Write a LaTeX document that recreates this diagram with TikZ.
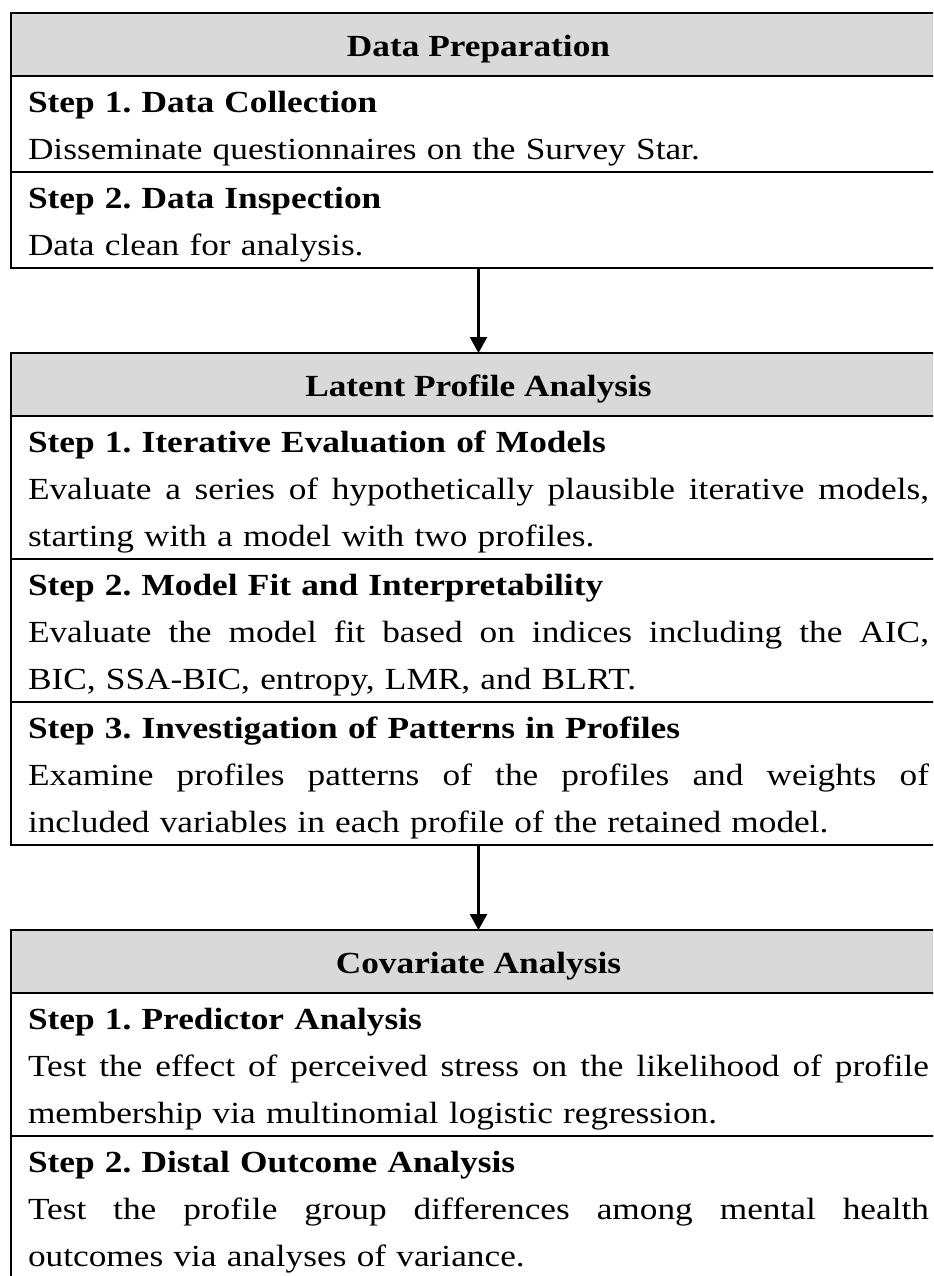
\documentclass[tikz,border=0pt]{standalone}
\usepackage{fontspec}
\setmainfont{Liberation Serif}[FakeStretch=1.15]
\usetikzlibrary{positioning,arrows.meta}

\definecolor{headgray}{RGB}{217,217,217}
% one text line: strut for the line height, justified line
\newcommand{\ls}{\rule[-5.75pt]{0pt}{23.5pt}}
\newcommand{\jline}[1]{{\spaceskip=0pt\xspaceskip=0pt\makebox[450.5pt][s]{#1}}}
\newcommand{\boxfont}{\fontsize{15.35pt}{23.5pt}\selectfont\frenchspacing}

\tikzset{
    head/.style={draw, line width=1.2pt, fill=headgray, font=\boxfont\bfseries,
        minimum width=467.5pt, inner xsep=0pt, inner ysep=4pt, outer sep=0pt},
    row/.style={draw, line width=1.2pt, font=\boxfont, text width=450.5pt, align=left,
        inner xsep=8.5pt, inner ysep=0.5pt, outer sep=0pt},
    arr/.style={line width=1.2pt, -{Triangle[length=8pt,width=8.5pt]}}
}

\begin{document}
\begin{tikzpicture}
    \useasboundingbox (0,0) rectangle (466.5pt,-638pt);
    \clip (0,0) rectangle (466.5pt,-638pt);

    % Data Preparation
    \node[head, anchor=north] (dp) at (239.25pt,-6.5pt) {\ls Data Preparation};
    \node[row, below=0pt of dp] (dp1) {\ls\textbf{Step 1. Data Collection}\\
        \ls Disseminate questionnaires on the Survey Star.};
    \node[row, below=0pt of dp1] (dp2) {\ls\textbf{Step 2. Data Inspection}\\
        \ls Data clean for analysis.};

    % Latent Profile Analysis
    \node[head, below=42.5pt of dp2] (lpa) {\ls Latent Profile Analysis};
    \node[row, below=0pt of lpa] (lpa1) {\ls\textbf{Step 1. Iterative Evaluation of Models}\\
        \ls\jline{Evaluate a series of hypothetically plausible iterative models,}\\
        \ls starting with a model with two profiles.};
    \node[row, below=0pt of lpa1] (lpa2) {\ls\textbf{Step 2. Model Fit and Interpretability}\\
        \ls\jline{Evaluate the model fit based on indices including the AIC,}\\
        \ls BIC, SSA-BIC, entropy, LMR, and BLRT.};
    \node[row, below=0pt of lpa2] (lpa3) {\ls\textbf{Step 3. Investigation of Patterns in Profiles}\\
        \ls\jline{Examine profiles patterns of the profiles and weights of}\\
        \ls included variables in each profile of the retained model.};

    % Covariate Analysis
    \node[head, below=42.5pt of lpa3] (ca) {\ls Covariate Analysis};
    \node[row, below=0pt of ca] (ca1) {\ls\textbf{Step 1. Predictor Analysis}\\
        \ls\jline{Test the effect of perceived stress on the likelihood of profile}\\
        \ls membership via multinomial logistic regression.};
    \node[row, below=0pt of ca1] (ca2) {\ls\textbf{Step 2. Distal Outcome Analysis}\\
        \ls\jline{Test the profile group differences among mental health}\\
        \ls outcomes via analyses of variance.};

    % Arrows
    \draw[arr] (dp2) -- (lpa);
    \draw[arr] (lpa3) -- (ca);
\end{tikzpicture}
\end{document}
